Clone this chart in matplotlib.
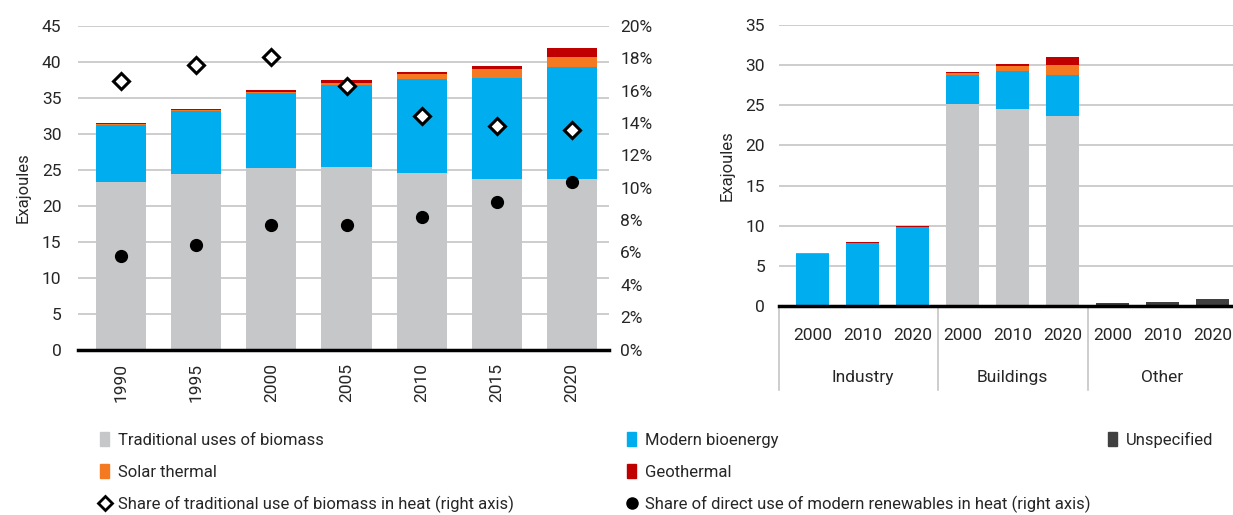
import matplotlib
matplotlib.use('Agg')
import matplotlib.pyplot as plt
from matplotlib.patches import Patch
from matplotlib.lines import Line2D
from matplotlib.ticker import FuncFormatter
import matplotlib.transforms as mtransforms

plt.rcParams['font.family'] = ['Roboto', 'DejaVu Sans']

# Renewable heat by source over time (EJ) and shares (%)
years = ['1990', '1995', '2000', '2005', '2010', '2015', '2020']
traditional = [23.25, 24.4, 25.25, 25.4, 24.55, 23.7, 23.7]
modern = [8.02, 8.77, 10.42, 11.4, 13.03, 14.0, 15.6]
solar = [0.1, 0.12, 0.15, 0.3, 0.7, 1.3, 1.4]
geothermal = [0.13, 0.16, 0.28, 0.4, 0.32, 0.5, 1.2]
share_traditional = [16.6, 17.6, 18.1, 16.3, 14.45, 13.8, 13.6]
share_modern = [5.8, 6.45, 7.7, 7.7, 8.2, 9.1, 10.35]

# Renewable heat by sector (EJ)
sectors = ['Industry', 'Buildings', 'Other']
sector_years = ['2000', '2010', '2020']
sec_traditional = [0, 0, 0, 25.2, 24.5, 23.7, 0, 0, 0]
sec_modern = [6.45, 7.8, 9.85, 3.55, 4.8, 5.05, 0, 0, 0]
sec_solar = [0.1, 0.1, 0.05, 0.25, 0.6, 1.25, 0, 0, 0]
sec_geothermal = [0.08, 0.07, 0.1, 0.2, 0.25, 1.0, 0, 0, 0]
sec_unspecified = [0, 0, 0, 0, 0, 0, 0.33, 0.5, 0.83]

C_TRAD = '#c6c7c9'
C_MODERN = '#00aeef'
C_SOLAR = '#f47920'
C_GEO = '#c00000'
C_UNSPEC = '#404040'
GRID = '#c0c0c0'
TXT = '#262626'
FS = 12.5

fig = plt.figure(figsize=(12.33, 5.15), dpi=100)


def stack(ax, x, layers, colors, width):
    bottom = [0] * len(x)
    for vals, col in zip(layers, colors):
        ax.bar(x, vals, width, bottom=bottom, color=col, zorder=2)
        bottom = [b + v for b, v in zip(bottom, vals)]


def style_axes(ax):
    for s in ('top', 'right', 'left'):
        ax.spines[s].set_visible(False)
    ax.spines['bottom'].set_color('black')
    ax.spines['bottom'].set_linewidth(2.5)
    ax.spines['bottom'].set_zorder(4)
    ax.yaxis.grid(True, color=GRID, linewidth=1.1, zorder=0)
    ax.set_axisbelow(True)
    ax.tick_params(axis='both', length=0, labelsize=FS, colors=TXT)


# ---- left panel: history with shares on a secondary axis ----
ax1 = fig.add_axes([78 / 1233, 165.5 / 515, 531 / 1233, 323.5 / 515])
x1 = list(range(len(years)))
stack(ax1, x1, [traditional, modern, solar, geothermal],
      [C_TRAD, C_MODERN, C_SOLAR, C_GEO], 0.667)
ax1.set_xlim(-0.57, 6.49)
ax1.set_ylim(0, 45)
ax1.set_yticks(range(0, 46, 5))
ax1.set_xticks(x1)
ax1.set_xticklabels(years, rotation=90)
style_axes(ax1)
ax1.tick_params(axis='x', pad=10)
ax1.tick_params(axis='y', pad=12)
ax1.set_ylabel('Exajoules', fontsize=12, color=TXT, labelpad=8)

ax1r = ax1.twinx()
ax1r.set_ylim(0, 20)
ax1r.set_yticks(range(0, 21, 2))
ax1r.yaxis.set_major_formatter(FuncFormatter(lambda v, _: f'{v:.0f}%'))
for s in ax1r.spines.values():
    s.set_visible(False)
ax1r.tick_params(axis='y', length=0, labelsize=FS, colors=TXT, pad=8)
ax1r.plot(x1, share_traditional, linestyle='none', marker='D', markersize=8,
          markerfacecolor='white', markeredgecolor='black', markeredgewidth=2.2,
          zorder=5)
ax1r.plot(x1, share_modern, linestyle='none', marker='o', markersize=8.5,
          color='black', zorder=5)

# ---- right panel: by sector ----
ax2 = fig.add_axes([779 / 1233, 209 / 515, 467 / 1233, 281 / 515])
x2 = list(range(len(sec_traditional)))
stack(ax2, x2, [sec_traditional, sec_modern, sec_solar, sec_geothermal, sec_unspecified],
      [C_TRAD, C_MODERN, C_SOLAR, C_GEO, C_UNSPEC], 0.667)
ax2.set_xlim(-0.67, 8.67)
ax2.set_ylim(0, 35)
ax2.set_yticks(range(0, 36, 5))
ax2.set_xticks(x2)
ax2.set_xticklabels(sector_years * len(sectors))
style_axes(ax2)
ax2.tick_params(axis='x', pad=16)
ax2.tick_params(axis='y', pad=10)
ax2.set_ylabel('Exajoules', fontsize=12, color=TXT, labelpad=8)

trans = mtransforms.blended_transform_factory(ax2.transData, ax2.transAxes)
for xs in (-0.67, 2.5, 5.5, 8.67):
    ax2.add_line(Line2D([xs, xs], [0, -0.30], transform=trans, color=GRID,
                        linewidth=1.1, clip_on=False))
for i, name in enumerate(sectors):
    ax2.text(i * 3 + 1, -0.253, name, transform=trans, ha='center', va='center',
             fontsize=FS, color=TXT)

# ---- legend, three columns ----
leg_kw = dict(frameon=False, fontsize=12, labelcolor=TXT, handlelength=0.55,
              handleheight=0.9, handletextpad=0.55, labelspacing=0.98,
              borderpad=0, borderaxespad=0, loc='upper left')
col1 = [Patch(color=C_TRAD), Patch(color=C_SOLAR),
        Line2D([], [], linestyle='none', marker='D', markersize=7,
               markerfacecolor='white', markeredgecolor='black', markeredgewidth=2)]
col2 = [Patch(color=C_MODERN), Patch(color=C_GEO),
        Line2D([], [], linestyle='none', marker='o', markersize=8, color='black')]
col3 = [Patch(color=C_UNSPEC)]
fig.legend(col1, ['Traditional uses of biomass', 'Solar thermal',
                  'Share of traditional use of biomass in heat (right axis)'],
           bbox_to_anchor=(100 / 1233, 1 - 432 / 515), **leg_kw)
fig.legend(col2, ['Modern bioenergy', 'Geothermal',
                  'Share of direct use of modern renewables in heat (right axis)'],
           bbox_to_anchor=(627 / 1233, 1 - 432 / 515), **leg_kw)
fig.legend(col3, ['Unspecified'],
           bbox_to_anchor=(1108 / 1233, 1 - 432 / 515), **leg_kw)

fig.savefig('out.png', dpi=100, facecolor='white')
